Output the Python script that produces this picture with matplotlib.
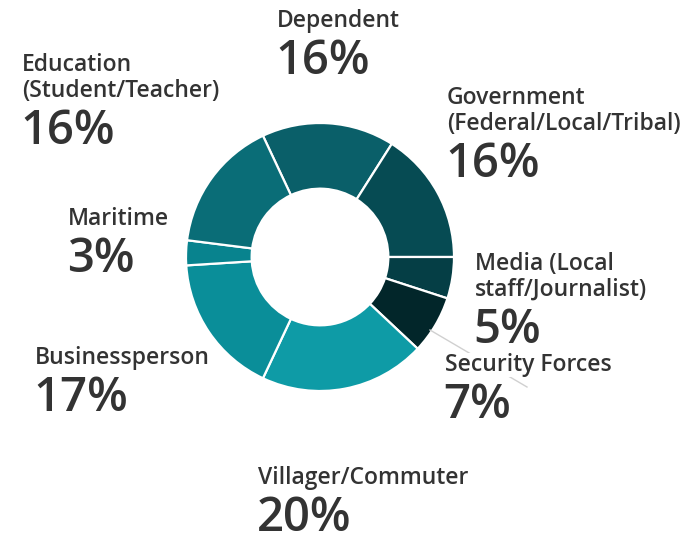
import matplotlib
matplotlib.use("Agg")
import matplotlib.pyplot as plt

categories = ["Dependent", "Government\n(Federal/Local/Tribal)", "Media (Local\nstaff/Journalist)",
              "Security Forces", "Villager/Commuter", "Businessperson", "Maritime",
              "Education\n(Student/Teacher)"]
values = [16, 16, 5, 7, 20, 17, 3, 16]
pct_labels = ["16%", "16%", "5%", "7%", "20%", "17%", "3%", "16%"]
colors = ["#0a5f69", "#064b53", "#053e45", "#02262a", "#0e9ba6", "#0a8e99", "#08838e", "#0a6d77"]

# label anchor: left x and first-line baseline y, in pixels from top-left
label_pos = [(277, 27), (447, 104), (475, 270), (445, 371), (258, 484), (35, 364), (68, 225), (22, 71)]

W, H = 685, 538
fig = plt.figure(figsize=(W / 100, H / 100), dpi=100)
plt.rcParams['font.family'] = ['Open Sans', 'DejaVu Sans']

cx, cy, R = 320, 257, 134
ax = fig.add_axes([(cx - R) / W, (H - cy - R) / H, 2 * R / W, 2 * R / H])
ax.pie(values, colors=colors, startangle=115.2, counterclock=False, radius=1.0,
       wedgeprops=dict(width=0.49, edgecolor="white", linewidth=1.6))
ax.set_xlim(-1, 1)
ax.set_ylim(-1, 1)
ax.set_aspect("equal")
ax.axis("off")

# leader line for Security Forces
fig.add_artist(plt.Line2D([430 / W, 527 / W], [1 - 330 / H, 1 - 387 / H],
                          color="#d0d0d0", lw=1.0, zorder=1))

text_color = "#333333"
for name, pct, (x, y) in zip(categories, pct_labels, label_pos):
    lines = name.split("\n")
    for i, ln in enumerate(lines):
        fig.text(x / W, 1 - (y + 26 * i) / H, ln, ha="left", va="baseline", fontsize=16.5,
                 fontweight="semibold", color=text_color, zorder=3,
                 bbox=dict(facecolor="white", edgecolor="none", pad=0.3))
    py = y + 26 * (len(lines) - 1) + 47
    fig.text(x / W - 0.002, 1 - py / H, pct, ha="left", va="baseline", fontsize=34,
             fontweight="semibold", color=text_color, zorder=3)

fig.savefig("out.png", dpi=100, facecolor="white")
